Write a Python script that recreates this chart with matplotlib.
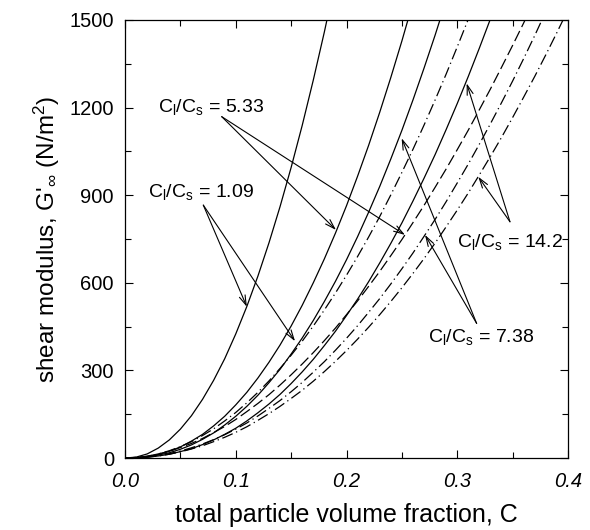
import numpy as np
import matplotlib
matplotlib.use('Agg')
import matplotlib.pyplot as plt
from matplotlib.ticker import MultipleLocator

plt.rcParams['font.family'] = ['Liberation Sans', 'DejaVu Sans']
plt.rcParams['mathtext.default'] = 'regular'

# total particle volume fraction, C
conc = [0.00, 0.01, 0.02, 0.03, 0.04, 0.05, 0.06, 0.07, 0.08, 0.09, 0.10,
        0.11, 0.12, 0.13, 0.14, 0.15, 0.16, 0.17, 0.18, 0.19, 0.20,
        0.21, 0.22, 0.23, 0.24, 0.25, 0.26, 0.27, 0.28, 0.29, 0.30,
        0.31, 0.32, 0.33, 0.34, 0.35, 0.36, 0.37, 0.38, 0.39, 0.40]

# shear modulus G'inf (N/m2), solid curves
g_solid_109 = [0, 3, 14, 34, 62, 99, 145, 201, 266, 340, 425, 519, 623, 737,
               861, 995, 1139, 1294, 1459, 1635]
g_solid_533 = [0, 1, 5, 12, 23, 38, 58, 81, 110, 143, 182, 225, 274, 328, 387,
               452, 523, 600, 682, 770, 864, 965, 1071, 1184, 1303, 1428, 1560]
g_solid_738 = [0, 1, 4, 10, 18, 30, 45, 64, 86, 113, 143, 177, 215, 258, 304,
               356, 411, 471, 536, 605, 679, 758, 842, 930, 1024, 1122, 1226,
               1335, 1448, 1567]
g_solid_142 = [0, 1, 3, 7, 13, 22, 32, 46, 62, 81, 102, 127, 155, 185, 218,
               255, 295, 338, 385, 434, 488, 544, 604, 668, 735, 805, 880, 958,
               1039, 1125, 1214, 1307, 1404, 1504, 1609]

# dashed curves
g_dash_109 = [0, 2, 6, 14, 25, 39, 56, 77, 100, 127, 156, 189, 225, 264, 307,
              352, 400, 452, 507, 565, 626, 690, 757, 827, 901, 978, 1057,
              1140, 1226, 1315, 1408, 1503, 1602]
g_dash_533 = [0, 2, 6, 14, 23, 36, 50, 67, 87, 108, 132, 159, 187, 217, 250,
              285, 322, 361, 402, 445, 491, 538, 588, 639, 693, 748, 806, 865,
              927, 990, 1056, 1123, 1193, 1264, 1338, 1413, 1490, 1570]
g_dash_738 = [0, 1, 4, 8, 15, 24, 35, 48, 63, 80, 99, 120, 144, 170, 197, 227,
              259, 294, 330, 369, 410, 453, 499, 546, 596, 648, 702, 759, 817,
              878, 942, 1007, 1075, 1145, 1217, 1291, 1368, 1447, 1529, 1612]
g_dash_142 = [0, 1, 3, 7, 13, 21, 31, 42, 56, 71, 88, 107, 129, 152, 177, 204,
              232, 263, 296, 331, 368, 407, 448, 491, 536, 583, 632, 683, 736,
              792, 849, 908, 970, 1033, 1098, 1166, 1236, 1307, 1381, 1457, 1535]

labels = ['C$_l$/C$_s$ = 1.09', 'C$_l$/C$_s$ = 5.33',
          'C$_l$/C$_s$ = 7.38', 'C$_l$/C$_s$ = 14.2']
# label baseline start (C, G), arrow tail, and the two arrow tips
label_pos = [(0.0211, 895), (0.0301, 1186), (0.2739, 398), (0.2995, 724)]
arrow_tail = [(0.0707, 866), (0.0873, 1169), (0.3175, 461), (0.3476, 809)]
arrow_tips = [[(0.110, 518), (0.1535, 400)],
              [(0.1905, 781), (0.2528, 764)],
              [(0.2498, 1095), (0.2709, 764)],
              [(0.3085, 1283), (0.319, 963)]]

fig = plt.figure(figsize=(5.9, 5.3), dpi=100)
ax = fig.add_axes([0.2119, 0.1358, 0.7508, 0.8265])

dashdot = (9, 3, 1, 3)
solids = [g_solid_109, g_solid_533, g_solid_738, g_solid_142]
dashes = [g_dash_109, g_dash_533, g_dash_738, g_dash_142]
dash_styles = [dashdot, (9, 3.5), dashdot, dashdot]
for g in solids:
    ax.plot(conc[:len(g)], g, color='black', lw=0.9)
for g, ds in zip(dashes, dash_styles):
    ax.plot(conc[:len(g)], g, color='black', lw=0.9, dashes=ds)

for lab, lp, tail, tips in zip(labels, label_pos, arrow_tail, arrow_tips):
    ax.text(lp[0], lp[1], lab, fontsize=14, va='baseline', ha='left')
    for tip in tips:
        ax.annotate('', xy=tip, xytext=tail,
                    arrowprops=dict(arrowstyle='->,head_length=0.7,head_width=0.22',
                                    color='black', lw=0.8,
                                    shrinkA=0, shrinkB=0))

ax.set_xlim(0, 0.4)
ax.set_ylim(0, 1500)
ax.xaxis.set_major_locator(MultipleLocator(0.1))
ax.xaxis.set_minor_locator(MultipleLocator(0.05))
ax.yaxis.set_major_locator(MultipleLocator(300))
ax.yaxis.set_minor_locator(MultipleLocator(150))
ax.xaxis.set_major_formatter(plt.FormatStrFormatter('%.1f'))
ax.tick_params(which='both', direction='in', top=True, right=True, width=0.8)
ax.tick_params(which='major', length=6, labelsize=14.5)
ax.tick_params(axis='x', which='major', pad=10)
ax.tick_params(axis='y', which='major', pad=8)
ax.tick_params(which='minor', length=4)
for t in ax.get_xticklabels():
    t.set_fontstyle('italic')
for s in ax.spines.values():
    s.set_linewidth(0.9)

ax.set_xlabel('total particle volume fraction, C', fontsize=18, labelpad=9)
ax.set_ylabel("shear modulus, G'$_\\infty$ (N/m$^2$)", fontsize=17.5, labelpad=5)

fig.savefig('out.png', dpi=100)
